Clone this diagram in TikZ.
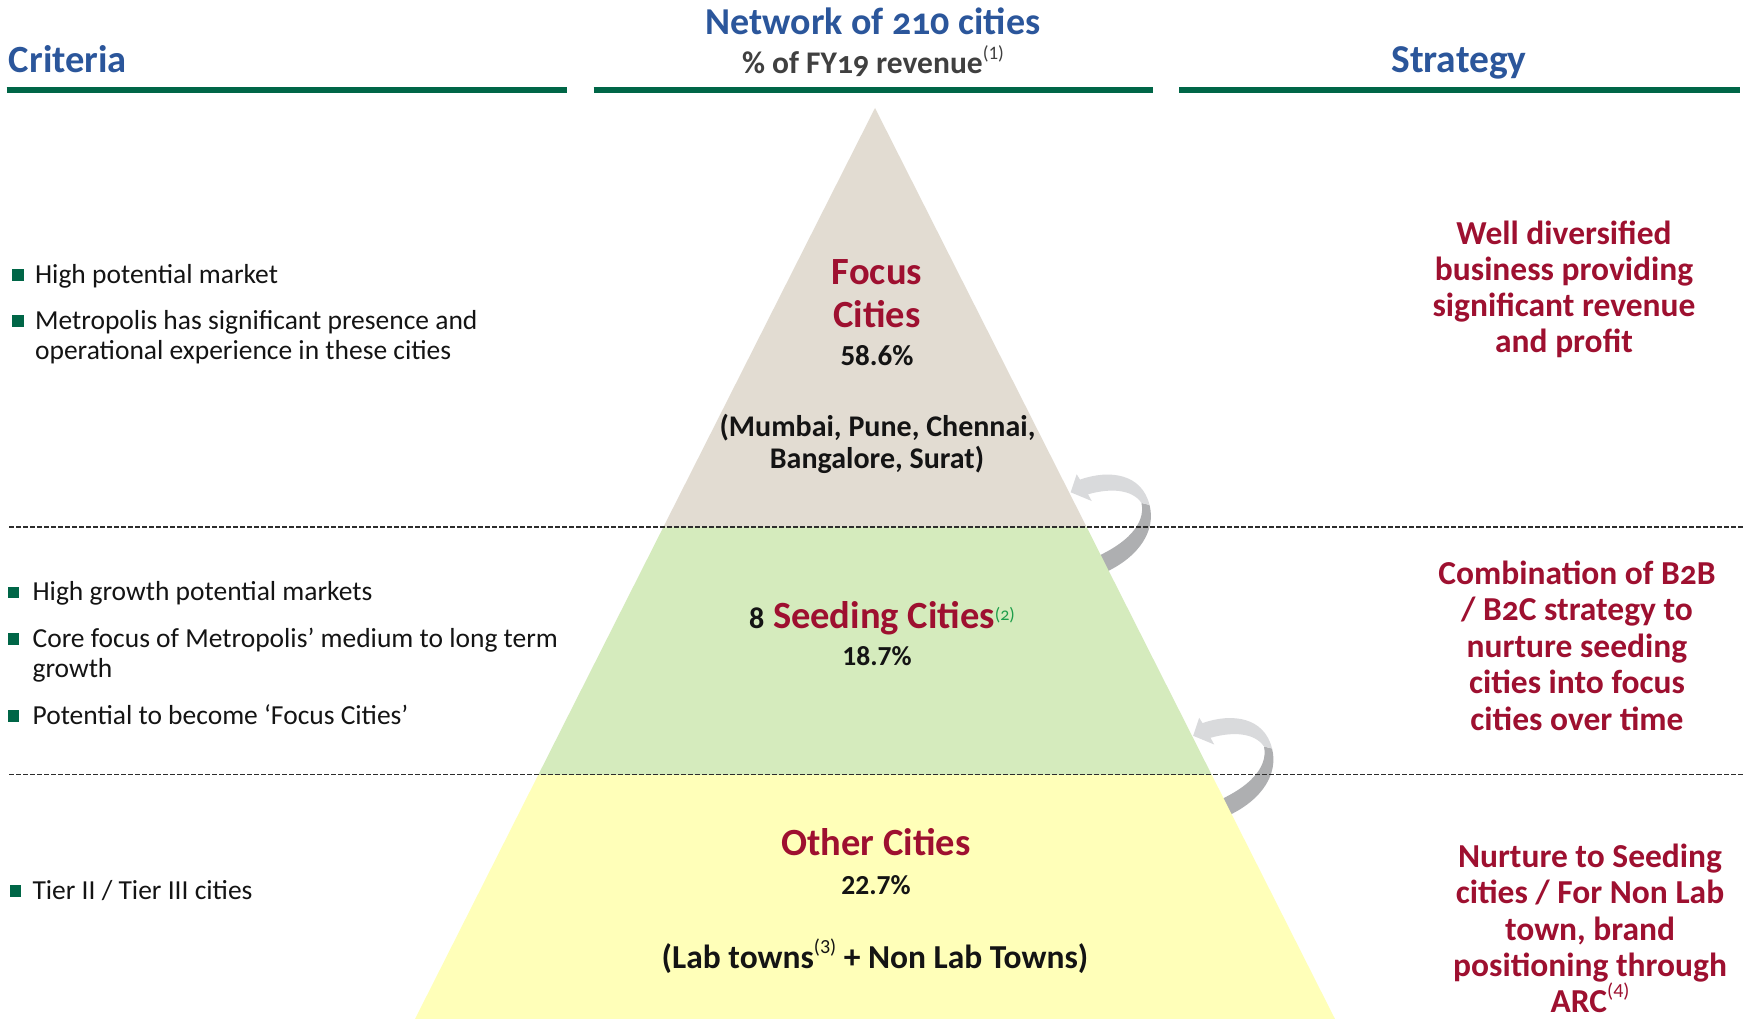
\documentclass[tikz,border=0pt]{standalone}
\usepackage{fontspec}
\setmainfont{Carlito}
\newfontfamily\osf{Carlito}[Numbers=OldStyle]
\definecolor{hdrblue}{RGB}{43,86,155}
\definecolor{linegreen}{RGB}{0,102,71}
\definecolor{stratred}{RGB}{158,16,48}
\definecolor{supgreen}{RGB}{30,158,74}
\definecolor{subgray}{RGB}{64,64,64}
\definecolor{focusfill}{RGB}{226,220,210}
\definecolor{seedfill}{RGB}{213,235,189}
\definecolor{otherfill}{RGB}{255,255,185}
\definecolor{arrowlight}{RGB}{217,218,220}
\definecolor{arrowdark}{RGB}{174,175,177}
\definecolor{dashgray}{RGB}{45,45,45}
\definecolor{txtblack}{RGB}{20,20,20}
\newcommand\myfs[1]{\fontsize{#1}{#1}\selectfont}
\newcommand\upmark[3][15]{\raisebox{#2}{\fontsize{#1}{#1}\selectfont #3}}
\newcommand\cyclearrow{%
  \fill[arrowdark] (1141.5,503) -- (1149.5,505) .. controls (1156,530) and (1140,556) .. (1106,572)
     -- (1096,557) .. controls (1125,544) and (1146,525) .. (1141.5,503) -- cycle;
  \fill[arrowlight] (1070.7,492.3) -- (1076.7,474.3) -- (1080,479.6) .. controls (1110,469) and (1142,474) .. (1149.5,505)
     -- (1141.5,503) .. controls (1132,489) and (1110,488) .. (1088,494.3) -- (1091.7,501) -- cycle;
}
\begin{document}
\begin{tikzpicture}[x=1pt,y=-1pt,
  every node/.style={inner sep=0pt,outer sep=0pt},
  hdr/.style={font={\myfs{38.5}\bfseries},text=hdrblue,anchor=base},
  crit/.style={font={\myfs{27.5}},text=txtblack,anchor=base west},
  bulletsq/.style={fill=linegreen,minimum size=11.5pt,inner sep=0pt},
  strat/.style={font={\myfs{33.5}\bfseries},text=stratred,anchor=base},
  tiertitle/.style={font={\myfs{38.5}\bfseries},text=stratred,anchor=base},
  pct/.style={font={\myfs{27.5}\bfseries},text=txtblack,anchor=base},
  cities/.style={font={\myfs{30}\bfseries},text=txtblack,anchor=base},
  greenrule/.style={draw=linegreen,line width=5.5pt},
  sepline/.style={draw=dashgray,line width=1.7pt,dash pattern=on 4.5pt off 2.5pt}
]
\useasboundingbox[fill=white] (0,0) rectangle (1743,1019);

% headers
\node[hdr,anchor=base west] (hcrit) at (9,73) {Criteria};
\node[hdr,font={\myfs{38}\bfseries}] (hnet) at (873,35) {Network of {\osf 210} cities};
\node[font={\myfs{31.5}\bfseries},text=subgray,anchor=base] (hrev) at (873,73.5) {\% of {\osf FY19} revenue\upmark[19]{0.45em}{\mdseries(1)}};
\node[hdr,font={\myfs{39.5}\bfseries}] (hstrat) at (1459,73) {Strategy};
\draw[greenrule] (6.7,90) -- (567,90);
\draw[greenrule] (593.6,90) -- (1152.8,90);
\draw[greenrule] (1179,90) -- (1740,90);

% curved arrows
\cyclearrow
\begin{scope}[shift={(122.5,243.5)}]
\cyclearrow
\end{scope}

% pyramid
\coordinate (apex) at (875,108);
\coordinate (fl) at (663.4,527);
\coordinate (fr) at (1086.6,527);
\coordinate (sl) at (538.2,775);
\coordinate (sr) at (1211.8,775);
\coordinate (ol) at (415,1019);
\coordinate (or) at (1335,1019);
\fill[focusfill] (apex) -- (fr) -- (fl) -- cycle;
\fill[seedfill] (fl) -- (fr) -- (sr) -- (sl) -- cycle;
\fill[otherfill] (sl) -- (sr) -- (or) -- (ol) -- cycle;

% separators
\draw[sepline] (9,527) -- (1743,527);
\draw[sepline] (9,774.5) -- (1743,774.5);

% criteria texts
\node[bulletsq] (b1) at (17.9,275) {};
\node[crit] (c1) at (35.1,283.3) {High potential market};
\node[bulletsq] (b2) at (17.9,320.8) {};
\node[crit] (c2) at (35.1,329.3) {Metropolis has significant presence and};
\node[crit] (c2b) at (35.1,359) {operational experience in these cities};

\node[bulletsq] (b3) at (13.7,592.5) {};
\node[crit] (c3) at (32.6,600.5) {High growth potential markets};
\node[bulletsq] (b4) at (13.7,639) {};
\node[crit] (c4) at (32.6,647) {Core focus of Metropolis’ medium to long term};
\node[crit] (c4b) at (32.6,677) {growth};
\node[bulletsq] (b5) at (13.7,716) {};
\node[crit] (c5) at (32.6,724) {Potential to become ‘Focus Cities’};

\node[bulletsq] (b6) at (15.5,891) {};
\node[crit] (c6) at (32.5,899) {Tier II / Tier III cities};

% pyramid texts
\node[tiertitle] (f1) at (877,284.3) {Focus};
\node[tiertitle] (f2) at (877,327) {Cities};
\node[pct,font={\myfs{29}\bfseries}] (fp) at (877,365) {58.6\%};
\node[cities] (fc1) at (877.5,436.7) {(Mumbai, Pune, Chennai,};
\node[cities] (fc2) at (877,468.3) {Bangalore, Surat)};

\node[tiertitle] (s1) at (882,628.3) {{\myfs{30}\color{txtblack}8} Seeding Cities\upmark[18]{0.2em}{\mdseries\color{supgreen}\osf(2)}};
\node[pct] (sp) at (877,665) {18.7\%};

\node[tiertitle] (o1) at (876,855) {Other Cities};
\node[pct] (op) at (876,894) {22.7\%};
\node[cities,font={\myfs{33.5}\bfseries}] (oc) at (875,968) {(Lab towns\upmark[20]{0.42em}{\mdseries(3)} + Non Lab Towns)};

% strategy texts
\node[strat] (t11) at (1564,244) {Well diversified};
\node[strat] (t12) at (1564,280) {business providing};
\node[strat] (t13) at (1564,316) {significant revenue};
\node[strat] (t14) at (1564,352) {and profit};

\node[strat] (t21) at (1577,584) {Combination of {\osf B2B}};
\node[strat] (t22) at (1577,620.5) {/ {\osf B2C} strategy to};
\node[strat] (t23) at (1577,657) {nurture seeding};
\node[strat] (t24) at (1577,693.5) {cities into focus};
\node[strat] (t25) at (1577,730) {cities over time};

\node[strat] (t31) at (1590,867) {Nurture to Seeding};
\node[strat] (t32) at (1590,903.5) {cities / For Non Lab};
\node[strat] (t33) at (1590,940) {town, brand};
\node[strat] (t34) at (1590,976.5) {positioning through};
\node[strat] (t35) at (1590,1012.5) {ARC\upmark[20]{0.45em}{\mdseries(4)}};
\end{tikzpicture}
\end{document}
